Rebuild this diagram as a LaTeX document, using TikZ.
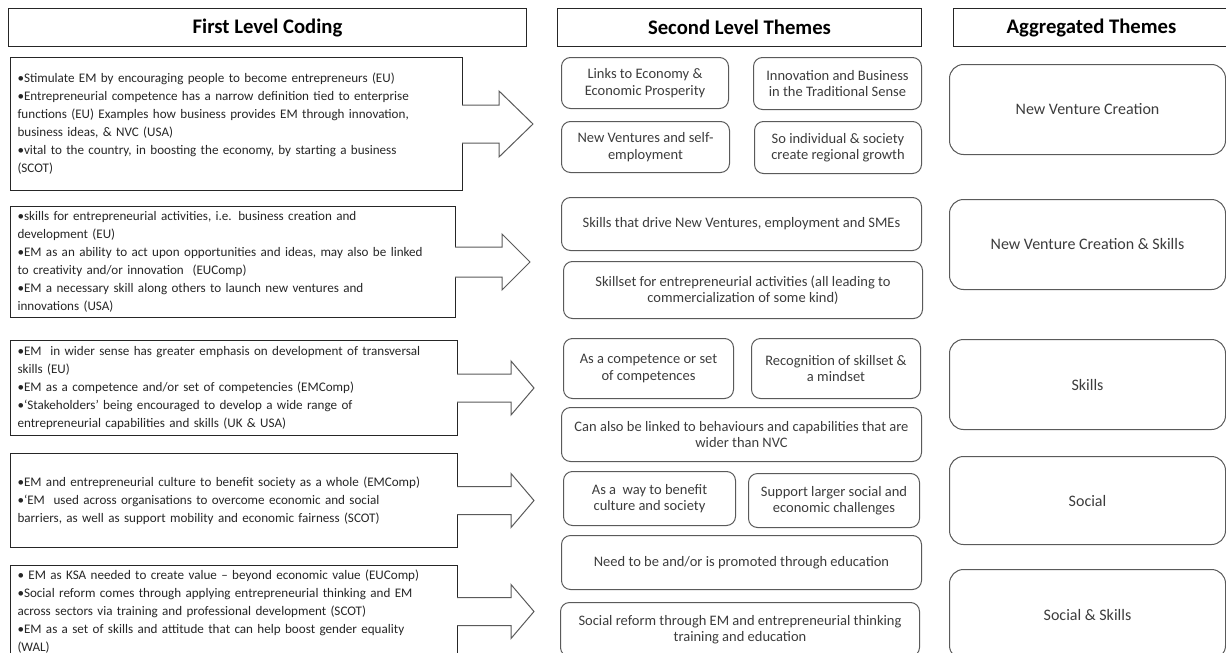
\documentclass[tikz,border=0pt]{standalone}
\usepackage{fontspec}
\setmainfont{Carlito}
\definecolor{boxgray}{RGB}{90,90,90}
\definecolor{textgray}{RGB}{60,60,60}

\begin{document}
\begin{tikzpicture}[x=1pt, y=-1pt,
    head box/.style={draw=black!85, line width=1pt, anchor=north west, minimum height=38pt, inner sep=0pt, font=\fontsize{20.7}{24}\selectfont\bfseries},
    first box/.style={draw=black!85, line width=1pt, anchor=north west, inner xsep=7pt, inner ysep=0pt, align=left, text=black!85, font=\fontsize{13.1}{18}\selectfont},
    theme box/.style={draw=boxgray, line width=1pt, rounded corners=9pt, anchor=north west, inner sep=2pt, align=center, text=textgray, font=\fontsize{14.5}{16.5}\selectfont},
    agg box/.style={theme box, rounded corners=14pt, font=\fontsize{16}{19}\selectfont},
    block arrow/.style={draw=boxgray, line width=1pt, fill=white, line join=miter}]
  \useasboundingbox (0,0) rectangle (1226,653);

  % column headers
  \node[head box, minimum width=518pt] (hfirst) at (8,8) {First Level Coding};
  \node[head box, minimum width=364pt] (hsecond) at (557,8) {Second Level Themes};
  \node[head box, minimum width=276pt] (hagg) at (953,8) {Aggregated Themes};

  % first level coding
  \node[first box, minimum width=452pt, minimum height=133pt, text width=438pt] (fl1) at (10,57)
    {•Stimulate EM by encouraging people to become entrepreneurs (EU)\\
     •Entrepreneurial competence has a narrow definition tied to enterprise\\
     functions (EU) Examples how business provides EM through innovation,\\
     business ideas, \& NVC (USA)\\
     •vital to the country, in boosting the economy, by starting a business\\
     (SCOT)};
  \node[first box, minimum width=445pt, minimum height=111pt, text width=431pt] (fl2) at (10,206)
    {•skills for entrepreneurial activities, i.e. business creation and\\
     development (EU)\\
     •EM as an ability to act upon opportunities and ideas, may also be linked\\
     to creativity and/or innovation~~(EUComp)\\
     •EM a necessary skill along others to launch new ventures and\\
     innovations (USA)};
  \node[first box, minimum width=447pt, minimum height=95pt, text width=433pt] (fl3) at (10,340)
    {•EM~~in wider sense has greater emphasis on development of transversal\\
     skills (EU)\\
     •EM as a competence and/or set of competencies (EMComp)\\
     •‘Stakeholders’ being encouraged to develop a wide range of\\
     entrepreneurial capabilities and skills (UK \& USA)};
  \node[first box, minimum width=447pt, minimum height=94pt, text width=433pt] (fl4) at (10,453)
    {•EM and entrepreneurial culture to benefit society as a whole (EMComp)\\
     •‘EM~~used across organisations to overcome economic and social\\
     barriers, as well as support mobility and economic fairness (SCOT)};
  \node[first box, minimum width=447pt, minimum height=92pt, text width=433pt] (fl5) at (10,565)
    {• EM as KSA needed to create value – beyond economic value (EUComp)\\
     •Social reform comes through applying entrepreneurial thinking and EM\\
     across sectors via training and professional development (SCOT)\\
     •EM as a set of skills and attitude that can help boost gender equality\\
     (WAL)};

  % arrows to the second level
  \draw[block arrow] ([xshift=-1pt]fl1.east) ++(0,-19) -- ++(37,0) -- ++(0,-14) -- ++(34,33) -- ++(-34,33) -- ++(0,-14) -- ++(-37,0);
  \draw[block arrow] ([xshift=-1pt]fl2.east) ++(0,-15) -- ++(47,0) -- ++(0,-13) -- ++(28,28) -- ++(-28,28) -- ++(0,-13) -- ++(-47,0);
  \foreach \n in {fl3,fl4,fl5}
    \draw[block arrow] ([xshift=-1pt]\n.east) ++(0,-14) -- ++(54,0) -- ++(0,-13) -- ++(23,27) -- ++(-23,27) -- ++(0,-13) -- ++(-54,0);

  % second level themes
  \node[theme box, minimum width=167pt, minimum height=51pt] (sl1) at (561,57) {Links to Economy \&\\Economic Prosperity};
  \node[theme box, minimum width=168pt, minimum height=52pt] (sl2) at (753,57) {Innovation and Business\\in the Traditional Sense};
  \node[theme box, minimum width=168pt, minimum height=51pt] (sl3) at (561,121) {New Ventures and self-\\employment};
  \node[theme box, minimum width=167pt, minimum height=52pt] (sl4) at (754,121) {So individual \& society\\create regional growth};
  \node[theme box, minimum width=360pt, minimum height=53pt] (sl5) at (561,197) {Skills that drive New Ventures, employment and SMEs};
  \node[theme box, minimum width=359pt, minimum height=57pt] (sl6) at (563,261) {Skillset for entrepreneurial activities (all leading to\\commercialization of some kind)};
  \node[theme box, minimum width=170pt, minimum height=60pt] (sl7) at (563,338) {As a competence or set\\of competences};
  \node[theme box, minimum width=169pt, minimum height=60pt] (sl8) at (751,338) {Recognition of skillset \&\\a mindset};
  \node[theme box, minimum width=360pt, minimum height=54pt] (sl9) at (561,407) {Can also be linked to behaviours and capabilities that are\\wider than NVC};
  \node[theme box, minimum width=172pt, minimum height=54pt] (sl10) at (563,471) {As a~~way to benefit\\culture and society};
  \node[theme box, minimum width=171pt, minimum height=54pt] (sl11) at (748,473) {Support larger social and\\economic challenges};
  \node[theme box, minimum width=360pt, minimum height=54pt] (sl12) at (561,535) {Need to be and/or is promoted through education};
  \node[theme box, minimum width=359pt, minimum height=54pt] (sl13) at (560,602) {Social reform through EM and entrepreneurial thinking\\training and education};

  % aggregated themes
  \node[agg box, minimum width=276pt, minimum height=90pt] (ag1) at (949,64) {New Venture Creation};
  \node[agg box, minimum width=276pt, minimum height=90pt] (ag2) at (949,199) {New Venture Creation \& Skills};
  \node[agg box, minimum width=276pt, minimum height=90pt] (ag3) at (949,339) {Skills};
  \node[agg box, minimum width=276pt, minimum height=88pt] (ag4) at (949,456) {Social};
  \node[agg box, minimum width=276pt, minimum height=90pt] (ag5) at (949,569) {Social \& Skills};
\end{tikzpicture}
\end{document}
